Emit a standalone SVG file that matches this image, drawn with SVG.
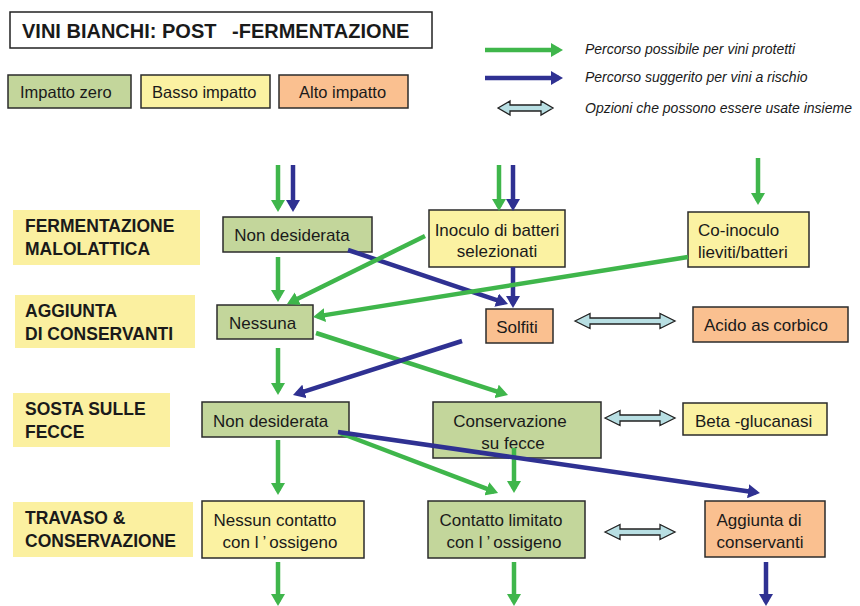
<svg xmlns="http://www.w3.org/2000/svg" width="860" height="606" viewBox="0 0 860 606">
<style>
text{font-family:"Liberation Sans",Arial,sans-serif;fill:#1a1a1a}
.t{font-size:17px}
.lg{font-size:16.5px}
.c{text-anchor:middle}
.h{font-size:17.5px;font-weight:bold}
.it{font-size:14px;font-style:italic}
.box{stroke:#2b2b2b;stroke-width:1.5}
.gr{fill:#c3d69b}.ye{fill:#fbf2a2}.or{fill:#fac090}
.lab{fill:#fbf0a0}
.ga{stroke:#3fb64b;stroke-width:4.5;fill:none;marker-end:url(#ag)}
.ba{stroke:#2f3192;stroke-width:4.5;fill:none;marker-end:url(#ab)}
.dbl{fill:#b8dfe3;stroke:#222;stroke-width:1.3;stroke-linejoin:miter}
</style>
<defs>
<marker id="ag" markerUnits="userSpaceOnUse" markerWidth="12" markerHeight="14" viewBox="0 0 12 14" refX="8" refY="7" orient="auto"><path d="M0,0 L12,7 L0,14 Z" fill="#3fb64b"/></marker>
<marker id="ab" markerUnits="userSpaceOnUse" markerWidth="12" markerHeight="14" viewBox="0 0 12 14" refX="8" refY="7" orient="auto"><path d="M0,0 L12,7 L0,14 Z" fill="#2f3192"/></marker>
</defs>
<rect width="860" height="606" fill="#ffffff"/>

<g id="title">
<rect x="10" y="12" width="422" height="36" fill="#fff" stroke="#222" stroke-width="1.5"/>
<text x="22" y="38" style="font-size:20px;font-weight:bold">VINI BIANCHI: POST <tspan dx="10">-FERMENTAZIONE</tspan></text>
</g>

<g id="legend-impatto-zero"><rect class="box gr" x="8" y="75" width="123" height="33"/><text class="lg" x="20" y="98">Impatto zero</text></g>
<g id="legend-basso-impatto"><rect class="box ye" x="141" y="75" width="129" height="33"/><text class="lg" x="152" y="98">Basso impatto</text></g>
<g id="legend-alto-impatto"><rect class="box or" x="279" y="75" width="129" height="33"/><text class="lg" x="299" y="98">Alto impatto</text></g>

<g id="legend-arrows">
<line class="ga" x1="485" y1="50" x2="559" y2="50"/>
<line class="ba" x1="485" y1="78" x2="559" y2="78"/>
<path class="dbl" d="M498,108 L510,101 L510,105 L541,105 L541,101 L553,108 L541,115 L541,111 L510,111 L510,115 Z"/>
<text class="it" x="585" y="54">Percorso possibile per vini protetti</text>
<text class="it" x="585" y="82">Percorso suggerito per vini a rischio</text>
<text class="it" x="585" y="113">Opzioni che possono essere usate insieme</text>
</g>

<g id="row-fermentazione"><rect class="lab" x="13" y="210" width="187" height="55"/><text class="h" x="25" y="232">FERMENTAZIONE</text><text class="h" x="25" y="255">MALOLATTICA</text></g>
<g id="row-aggiunta"><rect class="lab" x="15" y="295" width="180" height="53"/><text class="h" x="25" y="317">AGGIUNTA</text><text class="h" x="25" y="340">DI CONSERVANTI</text></g>
<g id="row-sosta"><rect class="lab" x="13" y="393" width="157" height="54"/><text class="h" x="25" y="415">SOSTA SULLE</text><text class="h" x="25" y="438">FECCE</text></g>
<g id="row-travaso"><rect class="lab" x="13" y="502" width="180" height="55"/><text class="h" x="25" y="524">TRAVASO &amp;</text><text class="h" x="25" y="547">CONSERVAZIONE</text></g>

<g id="n-mlf-non"><rect class="box gr" x="223" y="217" width="149" height="35"/><text class="t c" x="292" y="241">Non desiderata</text></g>
<g id="n-mlf-inoculo"><rect class="box ye" x="429" y="210" width="136" height="57"/><text class="t c" x="497" y="236">Inoculo di batteri</text><text class="t c" x="497" y="257">selezionati</text></g>
<g id="n-mlf-coinoculo"><rect class="box ye" x="688" y="212" width="121" height="55"/><text class="t" x="698" y="236">Co-inoculo</text><text class="t" x="698" y="258">lieviti/batteri</text></g>

<g id="n-cons-nessuna"><rect class="box gr" x="217" y="305" width="96" height="34"/><text class="t" x="229" y="329">Nessuna</text></g>
<g id="n-cons-solfiti"><rect class="box or" x="486" y="309" width="67" height="34"/><text class="t c" x="517" y="333">Solfiti</text></g>
<g id="n-cons-ascorbico"><rect class="box or" x="693" y="307" width="155" height="35"/><text class="t" x="704" y="331">Acido as<tspan dx="4">corbico</tspan></text></g>

<g id="n-sosta-non"><rect class="box gr" x="202" y="402" width="147" height="35"/><text class="t" x="213" y="427">Non desiderata</text></g>
<g id="n-sosta-conservazione"><rect class="box gr" x="433" y="402" width="168" height="56"/><text class="t c" x="510" y="427">Conservazione</text><text class="t c" x="513" y="449">su fecce</text></g>
<g id="n-sosta-beta"><rect class="box ye" x="683" y="403" width="144" height="32"/><text class="t" x="695" y="427">Beta -glucanasi</text></g>

<g id="n-trav-nessun"><rect class="box ye" x="202" y="501" width="162" height="57"/><text class="t c" x="275" y="526">Nessun contatto</text><text class="t c" x="280" y="548">con l<tspan dx="4">’</tspan><tspan dx="3">ossigeno</tspan></text></g>
<g id="n-trav-limitato"><rect class="box gr" x="428" y="501" width="157" height="57"/><text class="t c" x="501" y="526">Contatto limitato</text><text class="t c" x="504" y="548">con l<tspan dx="4">’</tspan><tspan dx="3">ossigeno</tspan></text></g>
<g id="n-trav-aggiunta"><rect class="box or" x="705" y="501" width="120" height="56"/><text class="t c" x="759" y="526">Aggiunta di</text><text class="t c" x="760" y="548">conservanti</text></g>

<g id="connectors">
<line class="ga" x1="278" y1="165" x2="278" y2="208"/>
<line class="ba" x1="293" y1="165" x2="293" y2="208"/>
<line class="ga" x1="499" y1="165" x2="499" y2="207"/>
<line class="ba" x1="513" y1="165" x2="513" y2="207"/>
<line class="ga" x1="758" y1="158" x2="758" y2="201"/>

<line class="ga" x1="278" y1="257" x2="278" y2="298"/>
<line class="ba" x1="348" y1="250" x2="504.2" y2="302.7"/>
<line class="ga" x1="425" y1="236" x2="290.6" y2="302.2"/>
<line class="ba" x1="513" y1="267" x2="513" y2="304"/>
<line class="ga" x1="688" y1="257" x2="317" y2="316.4"/>

<line class="ga" x1="278" y1="348" x2="278" y2="391"/>
<line class="ga" x1="316" y1="333" x2="504.2" y2="393.8"/>
<line class="ba" x1="462" y1="341" x2="296.8" y2="393.8"/>

<line class="ga" x1="278" y1="440" x2="278" y2="491"/>
<line class="ga" x1="340" y1="433" x2="494.3" y2="491.6"/>
<line class="ga" x1="514" y1="448" x2="514" y2="489"/>
<line class="ba" x1="338" y1="432" x2="756" y2="492.4"/>

<line class="ga" x1="278" y1="562" x2="278" y2="602"/>
<line class="ga" x1="514" y1="562" x2="514" y2="602"/>
<line class="ba" x1="766" y1="562" x2="766" y2="602"/>

<path class="dbl" d="M575,321 L590,313.5 L590,318 L660,318 L660,313.5 L675,321 L660,328.5 L660,324 L590,324 L590,328.5 Z"/>
<path class="dbl" d="M605,418 L620,410.5 L620,415 L660,415 L660,410.5 L675,418 L660,425.5 L660,421 L620,421 L620,425.5 Z"/>
<path class="dbl" d="M605,532 L620,524.5 L620,529 L660,529 L660,524.5 L675,532 L660,539.5 L660,535 L620,535 L620,539.5 Z"/>
</g>
</svg>
